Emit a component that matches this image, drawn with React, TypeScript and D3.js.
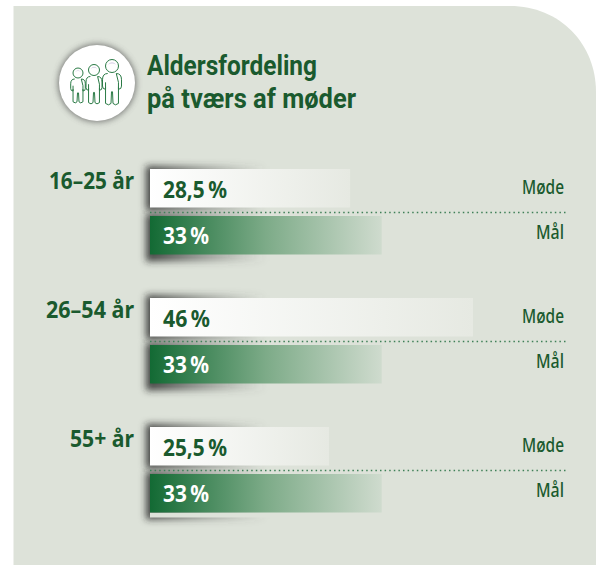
import React from "react";
import * as d3 from "d3";

const title = ["Aldersfordeling", "på tværs af møder"];
const ageGroups = ["16–25 år", "26–54 år", "55+ år"];
const ageWidths = [85, 88, 64];
const meetingValues = [28.5, 46, 25.5];
const meetingLabels = ["28,5\u2009%", "46\u2009%", "25,5\u2009%"];
const meetingLabelWidths = [64, 47, 64];
const targetValues = [33, 33, 33];
const targetLabels = ["33\u2009%", "33\u2009%", "33\u2009%"];
const seriesNames = ["Møde", "Mål"];

const WIDTH = 596;
const HEIGHT = 565;
const GREEN = "#1a5a2e";
const PANEL = "#dde2d9";
const FONT = "'Noto Sans', sans-serif";

const x = d3.scaleLinear().domain([0, 46]).range([150, 473]);
const y = d3.scaleBand<string>().domain(ageGroups).range([169, 556]).paddingInner(0).paddingOuter(0);

const panelPath = (() => {
  const p = d3.path();
  p.moveTo(13.5, 6);
  p.lineTo(510, 6);
  p.bezierCurveTo(560, 6, 596, 44, 596, 92);
  p.lineTo(596, 565);
  p.lineTo(13.5, 565);
  p.closePath();
  return p.toString();
})();

const people = [
  { cx: 78, headY: 73, r: 5, half: 7.3, feet: 103 },
  { cx: 94, headY: 70, r: 5.5, half: 8, feet: 104 },
  { cx: 112, headY: 66, r: 6.5, half: 9.5, feet: 105 },
];

function Person({ cx, headY, r, half, feet }: { cx: number; headY: number; r: number; half: number; feet: number }) {
  const top = headY + r + 1;
  const H = feet - top;
  const leg = half * 0.68;
  const b = d3.path();
  b.moveTo(cx - half * 0.45, top);
  b.quadraticCurveTo(cx - half, top, cx - half, top + H * 0.2);
  b.lineTo(cx - half, top + H * 0.4);
  b.quadraticCurveTo(cx - half, top + H * 0.5, cx - leg, top + H * 0.5);
  b.lineTo(cx - leg, top + H * 0.28);
  b.moveTo(cx - leg, top + H * 0.42);
  b.lineTo(cx - leg, top + H * 0.95);
  b.quadraticCurveTo(cx - leg / 2, top + H * 1.04, cx - 1, top + H * 0.95);
  b.lineTo(cx - 0.5, top + H * 0.58);
  b.lineTo(cx + 0.5, top + H * 0.58);
  b.lineTo(cx + 1, top + H * 0.95);
  b.quadraticCurveTo(cx + leg / 2, top + H * 1.04, cx + leg, top + H * 0.95);
  b.lineTo(cx + leg, top + H * 0.42);
  b.moveTo(cx + leg, top + H * 0.28);
  b.lineTo(cx + leg, top + H * 0.5);
  b.quadraticCurveTo(cx + half, top + H * 0.5, cx + half, top + H * 0.4);
  b.lineTo(cx + half, top + H * 0.2);
  b.quadraticCurveTo(cx + half, top, cx + half * 0.45, top);
  b.closePath();
  return (
    <g fill="none" stroke="#2a7a45" strokeWidth={1}>
      <circle cx={cx} cy={headY} r={r} fill="#fff" />
      <path d={`M${cx - r * 0.65},${headY - r * 0.2} Q${cx},${headY - r * 0.95} ${cx + r * 0.65},${headY - r * 0.2} Q${cx},${headY - r * 0.6} ${cx - r * 0.65},${headY - r * 0.2}Z`} fill="#d9d2e6" stroke="none" />
      <path d={b.toString()} />
    </g>
  );
}

export default function App() {
  const barH = 38.5;
  return (
    <svg width={WIDTH} height={HEIGHT} style={{ position: "absolute", left: 0, top: 0, fontFamily: FONT }}>
      <defs>
        <linearGradient id="whiteGrad" x1="0" x2="1" y1="0" y2="0">
          <stop offset="0" stopColor="#ffffff" />
          <stop offset="1" stopColor="#e6e9e2" />
        </linearGradient>
        <linearGradient id="greenGrad" x1="0" x2="1" y1="0" y2="0">
          <stop offset="0" stopColor="#136a34" />
          <stop offset="0.5" stopColor="#7dab88" />
          <stop offset="1" stopColor="#cfdbce" />
        </linearGradient>
        <linearGradient id="shadowGrad" x1="0" x2="1" y1="0" y2="0">
          <stop offset="0" stopColor="#222" stopOpacity="0.85" />
          <stop offset="0.35" stopColor="#333" stopOpacity="0.45" />
          <stop offset="0.8" stopColor="#555" stopOpacity="0" />
        </linearGradient>
        <filter id="blur5" x="-30%" y="-60%" width="160%" height="220%">
          <feGaussianBlur stdDeviation="3.5" />
        </filter>
        <filter id="circleShadow" x="-30%" y="-30%" width="160%" height="160%">
          <feGaussianBlur stdDeviation="3" />
        </filter>
      </defs>

      <path d={panelPath} fill={PANEL} />

      <circle cx={97} cy={83} r={39} fill="#555" opacity={0.75} filter="url(#circleShadow)" />
      <circle cx={97} cy={83} r={38} fill="#fff" />
      {people.map((p) => <Person key={p.cx} {...p} />)}

      <text fill={GREEN} fontWeight={700} fontSize={27} fontFamily="Roboto, sans-serif">
        <tspan x={147} y={75} textLength={170} lengthAdjust="spacingAndGlyphs">{title[0]}</tspan>
        <tspan x={147} y={108} textLength={209} lengthAdjust="spacingAndGlyphs">{title[1]}</tspan>
      </text>

      {ageGroups.map((g, i) => {
        const y0 = y(g)!;
        const dotY = y0 + 43.5;
        const y2 = y0 + 47;
        return (
          <g key={g}>
            <rect x={146} y={y0 - 3} width={150} height={barH + 6} fill="url(#shadowGrad)" filter="url(#blur5)" />
            <rect x={146} y={y2 - 2} width={150} height={barH + 9} fill="url(#shadowGrad)" filter="url(#blur5)" />
            {i === 2 && <rect x={150} y={y2 + barH} width={x(targetValues[i]) - 150} height={5} fill={PANEL} />}
            <rect x={150} y={y0} width={x(meetingValues[i]) - 150} height={barH} fill="url(#whiteGrad)" />
            <rect x={150} y={y2} width={x(targetValues[i]) - 150} height={barH} fill="url(#greenGrad)" />
            <line x1={150} x2={566} y1={dotY} y2={dotY} stroke="#3f8058" strokeWidth={1.5} strokeDasharray="1.5 3.1" />
            <text x={134 - ageWidths[i]} y={y0 + 20} fill={GREEN} fontWeight={700} fontSize={22.5} textLength={ageWidths[i]} lengthAdjust="spacingAndGlyphs">{g}</text>
            <text x={163} y={y0 + 29} fill={GREEN} fontWeight={700} fontSize={23} textLength={meetingLabelWidths[i]} lengthAdjust="spacingAndGlyphs">{meetingLabels[i]}</text>
            <text x={163} y={y2 + 27.5} fill="#fff" fontWeight={700} fontSize={23} textLength={46} lengthAdjust="spacingAndGlyphs">{targetLabels[i]}</text>
            <text x={522} y={y0 + 24.5} fill={GREEN} fontWeight={500} fontSize={19} textLength={42} lengthAdjust="spacingAndGlyphs">{seriesNames[0]}</text>
            <text x={536} y={y0 + 70} fill={GREEN} fontWeight={500} fontSize={19} textLength={28} lengthAdjust="spacingAndGlyphs">{seriesNames[1]}</text>
          </g>
        );
      })}
    </svg>
  );
}
